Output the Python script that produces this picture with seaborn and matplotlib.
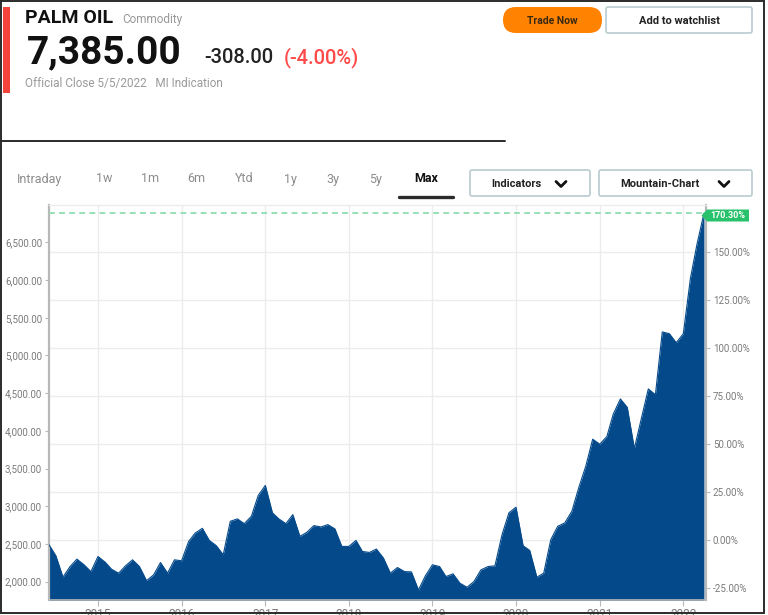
import numpy as np
import pandas as pd
import matplotlib
matplotlib.use("Agg")
import matplotlib.pyplot as plt
import seaborn as sns
from matplotlib.patches import FancyBboxPatch, Rectangle, Polygon
from matplotlib.lines import Line2D
from matplotlib.ticker import FuncFormatter

# ---------------- data ----------------
first_month = "2014-06-01"
prices = [
    2489, 2343, 2059, 2200, 2298, 2223, 2133,                                # 2014 Jun-Dec
    2333, 2259, 2165, 2112, 2209, 2289, 2200, 2013, 2089, 2253, 2112, 2289,  # 2015
    2276, 2533, 2645, 2707, 2547, 2476, 2356, 2800, 2832, 2769, 2867, 3143,  # 2016
    3276, 2912, 2832, 2769, 2889, 2600, 2653, 2743, 2725, 2756, 2699, 2467,  # 2017
    2467, 2547, 2400, 2387, 2432, 2312, 2112, 2187, 2133, 2129, 1889, 2076,  # 2018
    2223, 2200, 2067, 2103, 1979, 1925, 2000, 2156, 2200, 2209, 2623, 2912,  # 2019
    2987, 2476, 2413, 2059, 2112, 2556, 2733, 2779, 2933, 3245, 3533, 3889,  # 2020
    3823, 3925, 4223, 4423, 4312, 3765, 4156, 4556, 4480, 5312, 5289, 5169,  # 2021
    5289, 6023, 6467, 6885,                                                  # 2022 Jan-Apr
]
price_ticks = [2000, 2500, 3000, 3500, 4000, 4500, 5000, 5500, 6000, 6500]
pct_ticks = [-25, 0, 25, 50, 75, 100, 125, 150]
year_ticks = [2015, 2016, 2017, 2018, 2019, 2020, 2021, 2022]
last_change_pct = 170.30

title = "PALM OIL"
subtitle = "Commodity"
last_price = "7,385.00"
change_abs = "-308.00"
change_pct = "(-4.00%)"
close_info = "Official Close 5/5/2022   MI Indication"
tabs = ["Intraday", "1w", "1m", "6m", "Ytd", "1y", "3y", "5y", "Max"]
tab_x = [17, 96, 141, 187, 235, 284, 326, 369, 414]

# ---------------- style ----------------
sns.set_theme(style="white")
plt.rcParams["font.family"] = ["Roboto", "DejaVu Sans"]

BLUE = "#044a8b"
GRID = "#ececec"
AXC = "#b8b8b8"
LBL = "#7a7a7a"

W, H = 768, 615
fig = plt.figure(figsize=(W / 100, H / 100), dpi=100)
fig.patch.set_facecolor("white")

# chart axes (pixel box: x 49..706, y 205..600)
L, R, T, B = 49, 706, 205, 600
ax = fig.add_axes([L / W, 1 - B / H, (R - L) / W, (B - T) / H])

dates = pd.date_range(first_month, periods=len(prices), freq="MS")
df = pd.DataFrame({"date": dates, "price": prices})

ymin, ymax = 1756, 6996
base = prices[-1] / (1 + last_change_pct / 100)

sns.lineplot(data=df, x="date", y="price", ax=ax, color=BLUE, lw=0.8, zorder=3)
ax.fill_between(df["date"], df["price"], ymin - 500, color=BLUE, lw=0, zorder=2)

ax.set_ylim(ymin, ymax)
ax.set_xlim(dates[0], pd.Timestamp("2022-04-10"))

# grid (behind the area)
for yr in year_ticks:
    ax.axvline(pd.Timestamp(f"{yr}-01-01"), color=GRID, lw=1, zorder=0)
for p in pct_ticks:
    ax.axhline(base * (1 + p / 100), color=GRID, lw=1, zorder=0)

# dashed last-value line
ax.axhline(prices[-1], color="#8fdcb0", lw=1.3, ls=(0, (3.2, 2.4)), zorder=4)

ax.set_xlabel("")
ax.set_ylabel("")
ax.set_xticks([pd.Timestamp(f"{yr}-01-01") for yr in year_ticks])
ax.set_xticklabels([str(yr) for yr in year_ticks])
ax.set_yticks(price_ticks)
ax.yaxis.set_major_formatter(FuncFormatter(lambda v, _: f"{v:,.2f}"))
ax.tick_params(axis="y", left=True, length=3, width=0.8, color=AXC,
               labelsize=7, labelcolor=LBL, pad=2)
ax.tick_params(axis="x", bottom=True, length=4, width=0.8, color=AXC,
               labelsize=8.5, labelcolor=LBL, pad=2)

for side, sp in ax.spines.items():
    sp.set_visible(True)
ax.spines["left"].set_color(AXC)
ax.spines["left"].set_linewidth(1.6)
ax.spines["bottom"].set_color(AXC)
ax.spines["bottom"].set_linewidth(1.2)
ax.spines["top"].set_color(GRID)
ax.spines["top"].set_linewidth(1)
ax.spines["right"].set_visible(False)

sec = ax.secondary_yaxis(
    "right",
    functions=(lambda v: (v / base - 1) * 100, lambda p: base * (1 + p / 100)),
)
sec.set_yticks(pct_ticks)
sec.yaxis.set_major_formatter(FuncFormatter(lambda p, _: f"{p:.2f}%"))
sec.tick_params(axis="y", length=3, width=0.8, color=AXC, labelsize=7,
                labelcolor=LBL, pad=2)
sec.spines["right"].set_color(AXC)
sec.spines["right"].set_linewidth(1.6)

# ---------------- overlay (pixel coordinates) ----------------
ov = fig.add_axes([0, 0, 1, 1])
ov.set_xlim(0, W)
ov.set_ylim(H, 0)
ov.axis("off")
ov.patch.set_alpha(0)
ov.set_zorder(10)

# frame
for (x0, y0, x1, y1) in [(1, 0, 1, 613), (0, 1, 764, 1), (764, 0, 764, 613),
                         (0, 613, 764, 613), (0, 141, 505, 141)]:
    ov.add_line(Line2D([x0, x1], [y0, y1], color="#2b2b2b", lw=1.4))

# red marker bar
ov.add_patch(Rectangle((3, 7), 7, 86, color="#f4433b", lw=0))

# header texts
ov.text(25, 23, title, fontsize=14, fontweight="bold", color="#111", va="baseline")
ov.text(122, 23, subtitle, fontsize=8.5, color="#999", va="baseline")
ov.text(27, 63, last_price, fontsize=28, fontweight="bold", color="#111", va="baseline")
ov.text(204, 63, change_abs, fontsize=14.5, fontweight="medium", color="#222", va="baseline")
ov.text(284, 63, change_pct, fontsize=14.5, fontweight="medium", color="#ff4a4a", va="baseline")
ov.text(25, 87.5, close_info, fontsize=8.5, color="#9a9a9a", va="baseline")

# buttons
ov.add_patch(FancyBboxPatch((503, 7), 99, 26, boxstyle="round,pad=0,rounding_size=13",
                            fc="#ff8200", ec="none"))
ov.text(552.5, 24, "Trade Now", fontsize=7.5, fontweight="bold", color="#3a2a10",
        ha="center", va="baseline")
ov.add_patch(FancyBboxPatch((606, 7), 146, 26, boxstyle="round,pad=0,rounding_size=2",
                            fc="white", ec="#b9cbd0", lw=1.2))
ov.text(679, 24, "Add to watchlist", fontsize=8, fontweight="bold", color="#222",
        ha="center", va="baseline")

# tabs
for name, x in zip(tabs, tab_x):
    if name == "Max":
        ov.text(x, 182.5, name, fontsize=9, fontweight="bold", color="#111", va="baseline")
    else:
        ov.text(x, 182.5, name, fontsize=9, color="#8c8c8c", va="baseline")
ov.add_line(Line2D([399, 453], [196.5, 196.5], color="#2b2b2b", lw=2.4))

ov.add_patch(FancyBboxPatch((470, 170), 120, 26, boxstyle="round,pad=0,rounding_size=2",
                            fc="white", ec="#b9cbd0", lw=1.2))
ov.text(491, 187, "Indicators", fontsize=8, fontweight="bold", color="#222", va="baseline")
ov.add_line(Line2D([556, 561, 566], [181.5, 186.5, 181.5], color="#111", lw=2))

ov.add_patch(FancyBboxPatch((599, 170), 153, 26, boxstyle="round,pad=0,rounding_size=2",
                            fc="white", ec="#b9cbd0", lw=1.2))
ov.text(620, 187, "Mountain-Chart", fontsize=8, fontweight="bold", color="#222", va="baseline")
ov.add_line(Line2D([719, 724, 729], [181.5, 186.5, 181.5], color="#111", lw=2))

# last value label
ov.add_patch(Polygon([(701.5, 215.5), (707, 209.5), (749, 209.5), (749, 221.5), (707, 221.5)],
                     closed=True, fc="#27c26b", ec="none"))
ov.text(728, 215.8, f"{last_change_pct:.2f}%", fontsize=6.5, fontweight="bold",
        color="white", ha="center", va="center")

fig.savefig("out.png", dpi=100, facecolor="white")
